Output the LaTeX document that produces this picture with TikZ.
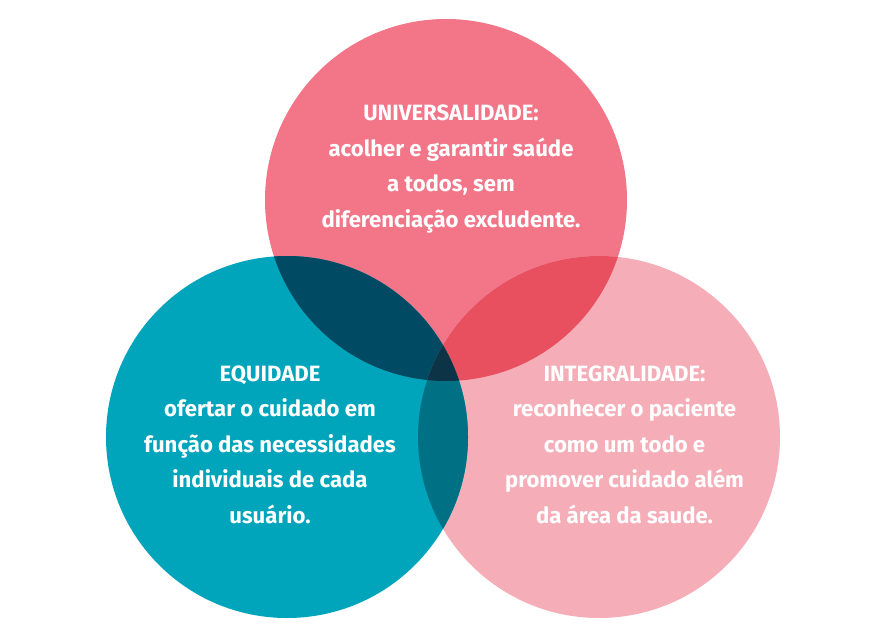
\documentclass[tikz,border=0pt]{standalone}
\usepackage{fontspec}
\setmainfont{Fira Sans}
\usepackage{tikz}
\definecolor{uni}{HTML}{F27588}
\definecolor{equ}{HTML}{00A5BB}
\definecolor{integ}{HTML}{F5ADB8}
\definecolor{uniequ}{HTML}{004B63}
\definecolor{uniint}{HTML}{E8505F}
\definecolor{equint}{HTML}{007184}
\definecolor{allthree}{HTML}{0D3347}
\usetikzlibrary{positioning}
\tikzset{
  every picture/.style={line cap=round, line join=round},
  circletext/.style={text=white, font=\fontsize{12.6}{20.2}\selectfont\bfseries, align=center, inner sep=0pt},
}
\newcommand{\rad}{3.62}

\begin{document}
\begin{tikzpicture}
  \useasboundingbox (0,0) rectangle (17.7,12.72);
  \coordinate (cU) at (8.92,8.72);
  \coordinate (cE) at (5.74,3.98);
  \coordinate (cI) at (11.98,3.98);

  % circles
  \fill[uni] (cU) circle (\rad);
  \fill[integ] (cI) circle (\rad);
  \fill[equ] (cE) circle (\rad);

  % overlaps
  \begin{scope}
    \clip (cU) circle (\rad);
    \fill[uniequ] (cE) circle (\rad);
    \fill[uniint] (cI) circle (\rad);
  \end{scope}
  \begin{scope}
    \clip (cE) circle (\rad);
    \fill[equint] (cI) circle (\rad);
    \clip (cU) circle (\rad);
    \fill[allthree] (cI) circle (\rad);
  \end{scope}

  \node[circletext] (tU) at (9.02,9.34) {UNIVERSALIDADE:\\acolher e garantir saúde\\a todos, sem\\diferenciação excludente.};
  \node[circletext] (tE) at (5.4,3.83) {EQUIDADE\\ofertar o cuidado em\\função das necessidades\\individuais de cada\\usuário.};
  \node[circletext] (tI) at (12.49,3.83) {INTEGRALIDADE:\\reconhecer o paciente\\como um todo e\\promover cuidado além\\da área da saude.};
\end{tikzpicture}
\end{document}
